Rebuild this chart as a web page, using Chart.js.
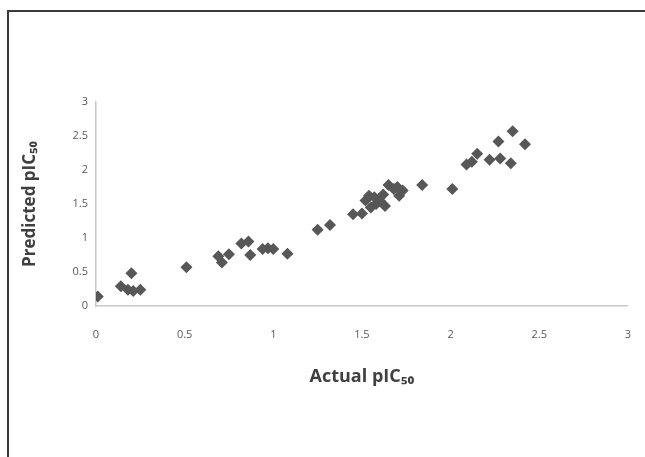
<!DOCTYPE html>
<html>
<head>
<meta charset="utf-8">
<script src="https://cdn.jsdelivr.net/npm/chart.js@4"></script>
<style>
  html, body { margin: 0; padding: 0; background: #fff; }
  #wrap { position: relative; width: 645px; height: 457px; overflow: hidden; }
  #frame { position: absolute; left: 7px; top: 10px; width: 650px; height: 460px;
           border-top: 2px solid #3a3a3a; border-left: 2px solid #3a3a3a; box-sizing: border-box; pointer-events: none; }
  canvas { position: absolute; left: 0; top: 0; }
</style>
</head>
<body>
<div id="wrap">
  <canvas id="c" width="653" height="457"></canvas>
  <div id="frame"></div>
</div>
<script>
const actual = [0.01, 0.14, 0.18, 0.21, 0.25, 0.20, 0.51, 0.69, 0.71, 0.75, 0.82, 0.86, 0.87, 0.94, 0.97, 1.00, 1.08,
  1.25, 1.32, 1.45, 1.50, 1.52, 1.54, 1.55, 1.57, 1.58, 1.60, 1.62, 1.63, 1.65, 1.68, 1.70, 1.71, 1.73, 1.84,
  2.01, 2.09, 2.12, 2.15, 2.22, 2.28, 2.27, 2.34, 2.35, 2.42];
const predicted = [0.14, 0.29, 0.24, 0.22, 0.24, 0.48, 0.57, 0.73, 0.64, 0.76, 0.92, 0.95, 0.75, 0.84, 0.85, 0.84, 0.77,
  1.12, 1.19, 1.35, 1.36, 1.55, 1.62, 1.45, 1.60, 1.50, 1.55, 1.64, 1.47, 1.78, 1.72, 1.75, 1.62, 1.70, 1.78,
  1.72, 2.08, 2.12, 2.24, 2.15, 2.17, 2.42, 2.10, 2.57, 2.38];
const xTicks = [0, 0.5, 1, 1.5, 2, 2.5, 3];
const yTicks = [0, 0.5, 1, 1.5, 2, 2.5, 3];
const xTitle = 'Actual pIC\u2085\u2080';
const yTitle = 'Predicted pIC\u2085\u2080';

const points = actual.map((x, i) => ({ x: x, y: predicted[i] }));
const font = "'Open Sans', Lato, 'Liberation Sans', sans-serif";
const fmt = v => String(v);

new Chart(document.getElementById('c'), {
  type: 'scatter',
  data: { datasets: [{ data: points, pointStyle: 'rectRot', pointRadius: 6,
    backgroundColor: '#575757', borderColor: '#575757', borderWidth: 0 }] },
  options: {
    responsive: false, animation: false,
    layout: { padding: { left: 16, top: 102, right: 0, bottom: 66 } },
    plugins: { legend: { display: false }, tooltip: { enabled: false } },
    scales: {
      x: {
        type: 'linear', min: 0, max: 3,
        afterBuildTicks: s => { s.ticks = xTicks.map(v => ({ value: v })); },
        afterFit: s => { s.height = 85; },
        grid: { display: false, drawTicks: false },
        border: { display: true, color: '#c8c8c8', width: 1.5 },
        ticks: { color: '#595959', font: { family: font, size: 11 }, padding: 22, maxRotation: 0,
          callback: v => fmt(v) },
        title: { display: true, text: xTitle, color: '#404040',
          font: { family: font, size: 18, weight: 'bold' }, padding: { top: 4, bottom: 3 } }
      },
      y: {
        type: 'linear', min: 0, max: 3,
        afterBuildTicks: s => { s.ticks = yTicks.map(v => ({ value: v })); },
        afterFit: s => { s.width = 80; },
        grid: { display: false, drawTicks: false },
        border: { display: true, color: '#c8c8c8', width: 1.5 },
        ticks: { color: '#595959', font: { family: font, size: 11 }, padding: 8,
          callback: v => fmt(v) },
        title: { display: true, text: yTitle, color: '#404040',
          font: { family: font, size: 17, weight: 'bold' }, padding: { top: 4, bottom: 4 } }
      }
    }
  }
});
</script>
</body>
</html>
